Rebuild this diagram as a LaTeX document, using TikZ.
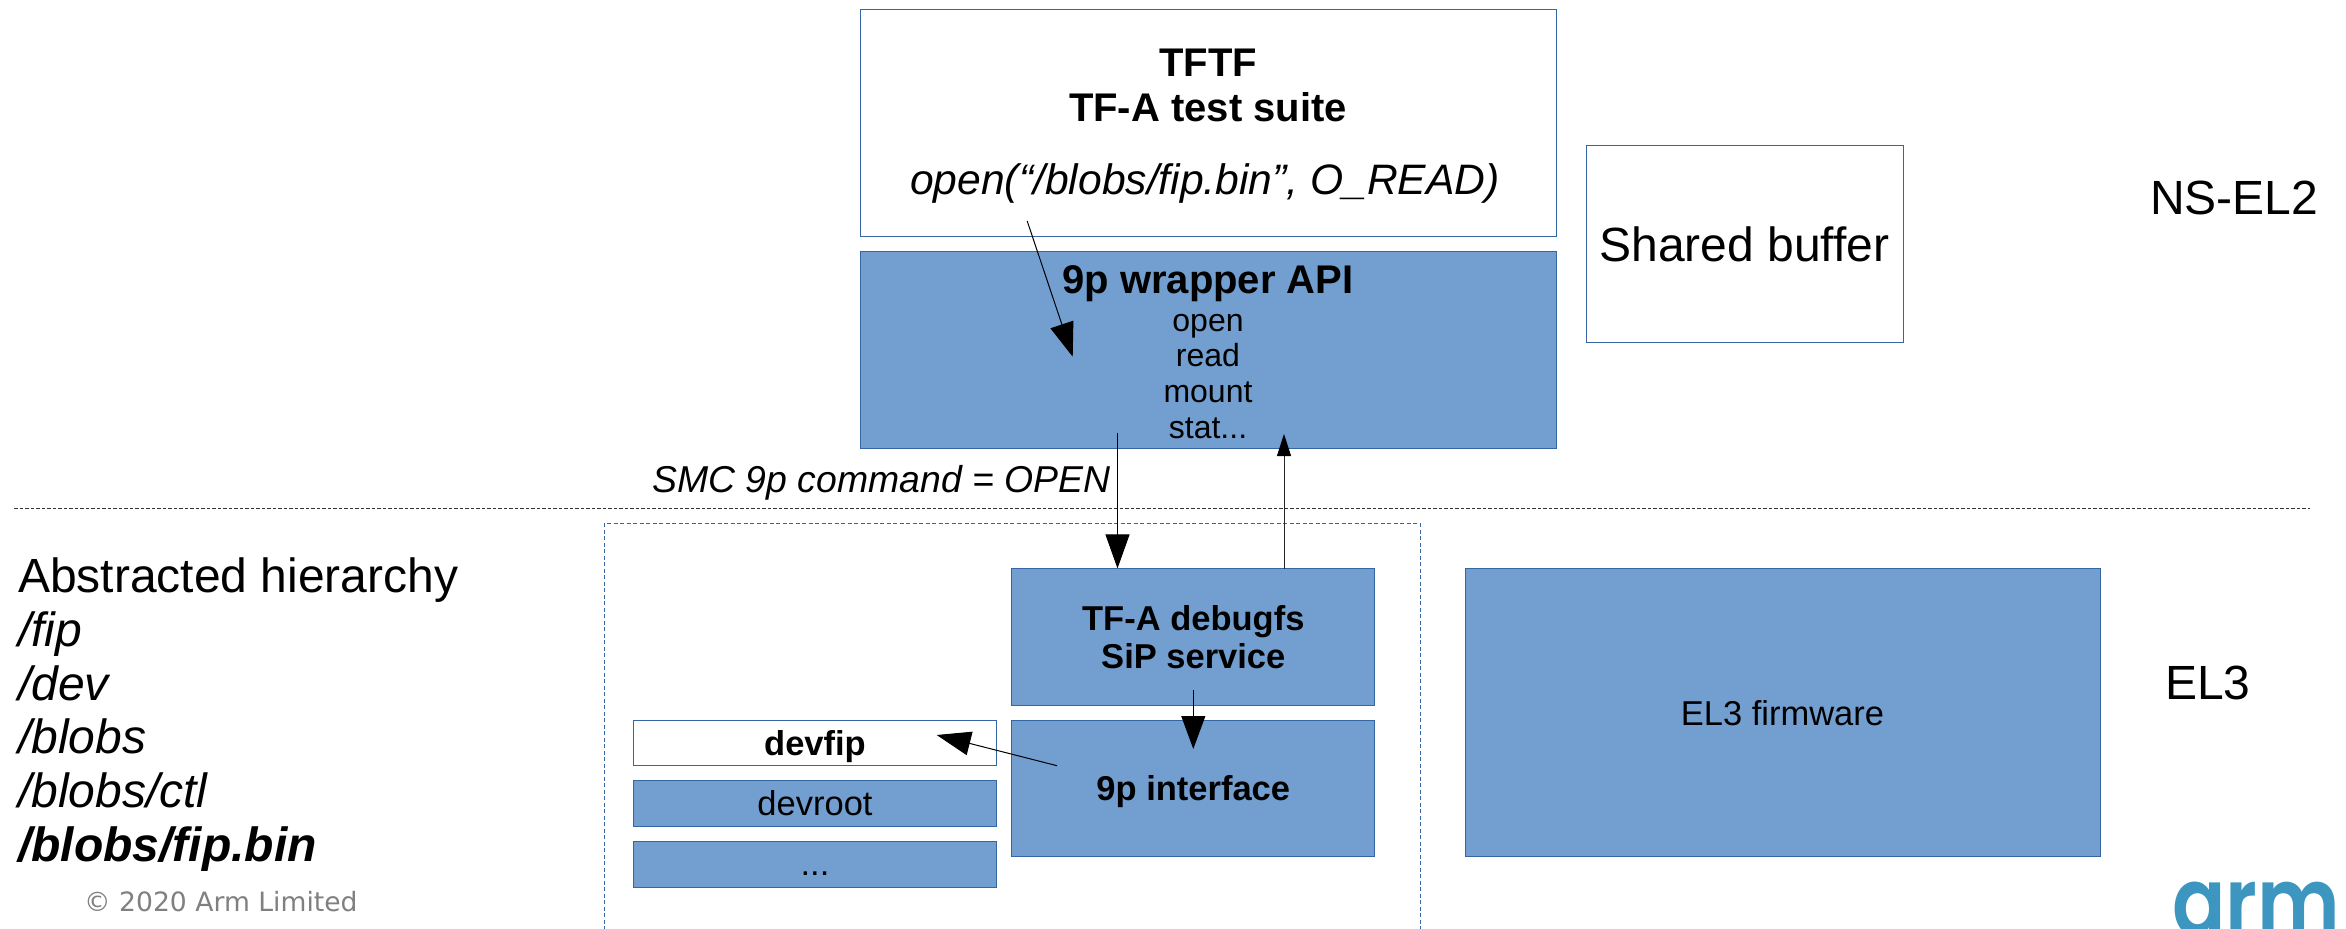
\documentclass[tikz,border=0pt]{standalone}
\usepackage{fontspec}
\setmainfont{Liberation Sans}
\newfontfamily\dejavu{DejaVu Sans}
\newfontfamily\logofont{Poppins SemiBold}
\usetikzlibrary{arrows.meta}
\definecolor{boxfill}{HTML}{729FCF}
\definecolor{boxline}{HTML}{3465A4}
\definecolor{armblue}{HTML}{3C96C0}
\newcommand{\fs}[2]{\fontsize{#1}{#2}\selectfont}
\newcommand{\low}[2]{\smash{\raisebox{-#1}{#2}}}
\tikzset{
  plainbox/.style={draw=boxline,line width=1pt,fill=white,inner sep=0pt,align=center,text=black},
  bluebox/.style={plainbox,fill=boxfill},
  sized/.style 2 args={minimum width=#1,minimum height=#2},
  flowline/.style={draw=black,line width=1pt},
  bighead/.style={flowline,-{Triangle[length=34pt,width=24pt]}},
  smallhead/.style={draw=black!85,line width=1pt,-{Triangle[length=22pt,width=14pt,color=black]}},
  freetext/.style={inner sep=0pt,anchor=base west,text=black},
  sep/.style={draw=black!80,line width=1.1pt,dash pattern=on 3.5pt off 2pt},
  groupline/.style={draw=boxline,line width=1pt,dash pattern=on 4pt off 2.5pt},
}
\begin{document}
\begin{tikzpicture}[x=1pt,y=-1pt]
\useasboundingbox (0,0) rectangle (2346,929);
% boxes
\node[plainbox,sized={696pt}{227pt},font=\fs{40}{45}\bfseries] (tftf) at (1208,123.2) {\rule{0pt}{33pt}TFTF\\TF-A test suite\\[27.6pt]{\fs{42.6}{45}\mdseries\itshape open(“/blobs/fip.bin”, O\_READ)\kern6pt}};
\node[bluebox,sized={696pt}{196.6pt},font=\fs{32}{35.8}] (api) at (1208,350) {\rule{0pt}{32pt}{\fs{40}{38}\bfseries 9p wrapper API}\\[2.2pt]open\\read\\mount\\stat...};
\node[plainbox,sized={317pt}{196.6pt}] (shared) at (1744.5,244) {\fs{48}{52}Shared buffer};
\node[bluebox,sized={363.3pt}{136.7pt},font=\fs{34.5}{38}\bfseries] (sip) at (1193.3,637.3) {TF-A debugfs\\SiP service};
\node[bluebox,sized={363.3pt}{136.4pt},font=\fs{34.5}{38}\bfseries] (nine) at (1193.3,788.5) {\low{11.5pt}{9p interface}};
\node[plainbox,sized={362.7pt}{45.4pt},font=\fs{34.5}{38}\bfseries] (devfip) at (815,743) {\low{12pt}{devfip}};
\node[bluebox,sized={362.7pt}{46pt},font=\fs{34.5}{38}] (devroot) at (815,803.7) {\low{11.3pt}{devroot}};
\node[bluebox,sized={362.7pt}{45.7pt},font=\fs{34.5}{38}] (dots) at (815,864.2) {\low{11.4pt}{...}};
\node[bluebox,sized={635pt}{287.7pt},font=\fs{34.5}{38}] (el3fw) at (1782.5,712.8) {EL3 firmware};
% separators
\coordinate (sepL) at (14,508.7);
\coordinate (sepR) at (2310,508.7);
\draw[sep] (sepL) -- (sepR);
\coordinate (grpA) at (604,930);
\coordinate (grpB) at (604,523.7);
\coordinate (grpC) at (1420,523.7);
\coordinate (grpD) at (1420,930);
\draw[groupline] (grpA) -- (grpB) -- (grpC) -- (grpD);
% free text
\node[freetext] (hier1) at (18,592.7) {\fs{48}{52}Abstracted hierarchy};
\node[freetext] (hier2) at (18,646) {\fs{48}{52}\itshape /fip};
\node[freetext] (hier3) at (18,700) {\fs{48}{52}\itshape /dev};
\node[freetext] (hier4) at (18,753.7) {\fs{48}{52}\itshape /blobs};
\node[freetext] (hier5) at (18,807.7) {\fs{48}{52}\itshape /blobs/ctl};
\node[freetext] (hier6) at (18,861) {\fs{48}{52}\bfseries\itshape /blobs/fip.bin};
\node[freetext,text=black!50] (copy) at (84,911) {\fs{26.6}{30}\dejavu © 2020 Arm Limited};
\node[freetext] (smc) at (652,492) {\fs{37.4}{42}\itshape SMC 9p command = OPEN};
\node[freetext] (nsel) at (2150,214) {\fs{48}{52}NS-EL2};
\node[freetext] (elthree) at (2165,699) {\fs{48}{52}EL3};
\node[freetext,text=armblue,xscale=0.83] (logo) at (2172,935) {\fs{95}{100}\logofont arm};
% connectors
\coordinate (a1s) at (1027.2,221);
\coordinate (a1e) at (1072.7,356.7);
\draw[bighead] (a1s) -- (a1e);
\coordinate (a2s) at (1117.5,433);
\coordinate (a2e) at (sip.north -| a2s);
\draw[bighead] (a2s) -- (a2e);
\coordinate (a3s) at (1284,569);
\coordinate (a3e) at (1284,434);
\draw[smallhead] (a3s) -- (a3e);
\coordinate (a4s) at (1193.3,690);
\coordinate (a4e) at (1193.3,749);
\draw[flowline,-{Triangle[length=33pt,width=24pt]}] (a4s) -- (a4e);
\coordinate (a5s) at (1057,765.7);
\coordinate (a5e) at (936.7,735);
\draw[bighead] (a5s) -- (a5e);
\end{tikzpicture}
\end{document}
